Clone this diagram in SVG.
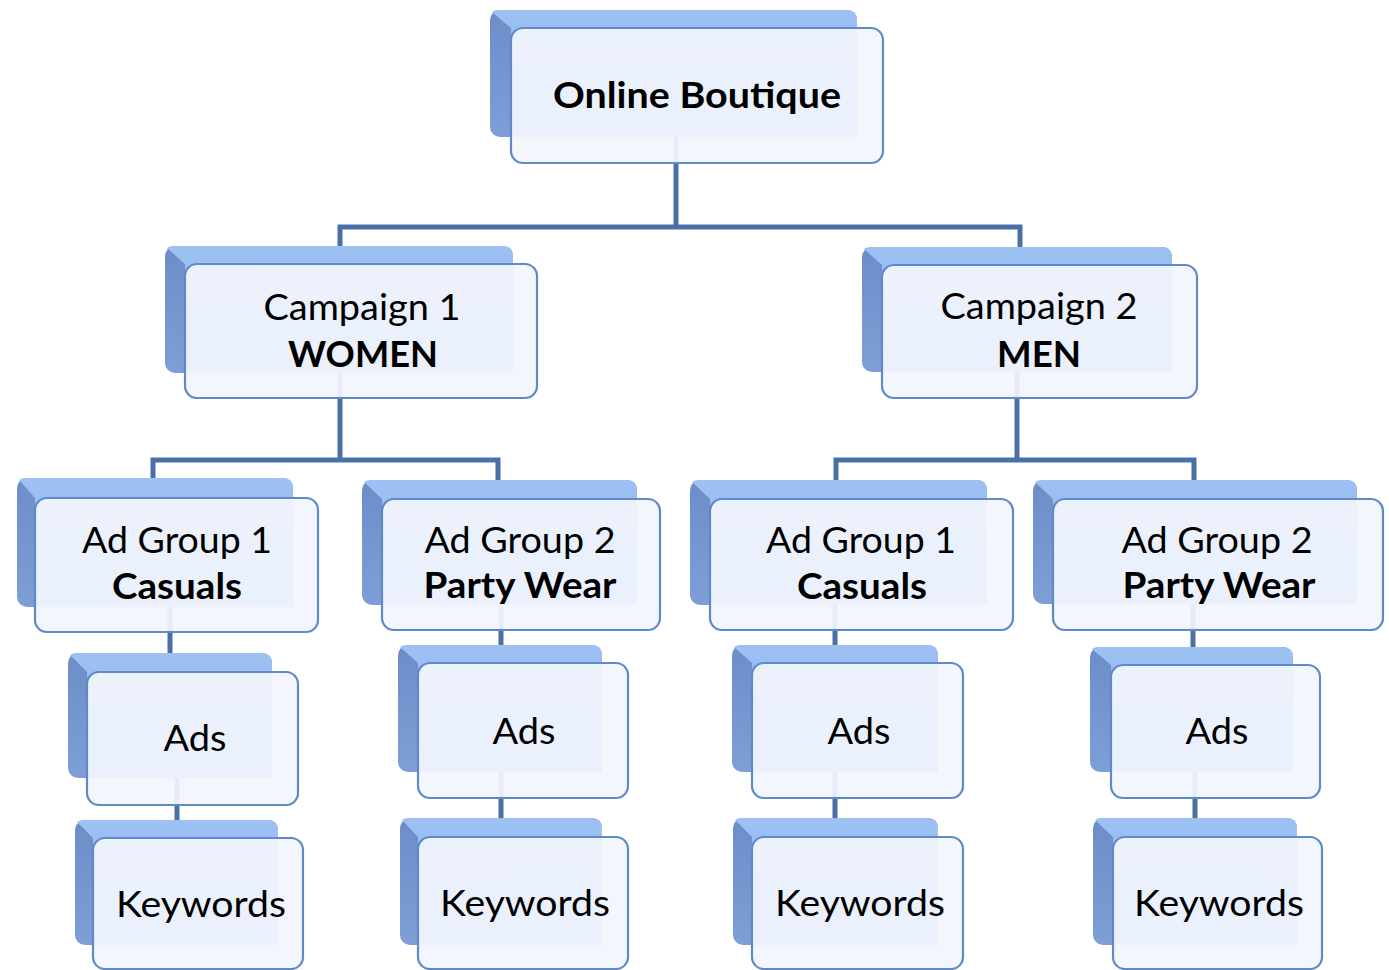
<svg xmlns="http://www.w3.org/2000/svg" width="1389" height="970" viewBox="0 0 1389 970">
<defs>
<linearGradient id="lightFace" x1="0" y1="0" x2="0" y2="1">
<stop offset="0" stop-color="#9dc1f3"/>
<stop offset="1" stop-color="#89afe7"/>
</linearGradient>
<linearGradient id="darkFace" x1="0" y1="0" x2="0" y2="1">
<stop offset="0" stop-color="#6c8dc8"/>
<stop offset="1" stop-color="#7d9ed6"/>
</linearGradient>
</defs>
<style>
.conn{fill:none;stroke:#4a70a8;stroke-width:5;stroke-linejoin:miter}
.dark{fill:url(#darkFace)}
.light{fill:url(#lightFace)}
.front{fill:#f2f5fd;fill-opacity:0.93;stroke:#5f8ac7;stroke-width:2.2}
.t{font-family:Lato,"Open Sans","Liberation Sans",sans-serif;font-size:36px;fill:#000;text-anchor:middle}
.b{font-weight:bold}
</style>
<rect width="1389" height="970" fill="#ffffff"/>
<g id="connectors">
<path class="conn" d="M676,137 V227 M340,247 V227 H1020 V247"/>
<path class="conn" d="M340,373 V460 M153,478 V460 H498 V480"/>
<path class="conn" d="M1017,372 V460 M836,480 V460 H1194 V480"/>
<path class="conn" d="M170,607 V653 M177,778 V820"/>
<path class="conn" d="M501,605 V645 M501,772 V818"/>
<path class="conn" d="M835,605 V645 M835,772 V818"/>
<path class="conn" d="M1193,604 V647 M1195,772 V818"/>
</g>
<g id="root">
<rect class="dark" x="490" y="10" width="367" height="127" rx="10"/>
<path class="light" d="M492,12 Q494,10 500,10 H847 Q857,10 857,20 V137 H511 V28 Z"/>
<rect class="front" x="511" y="28" width="372" height="135" rx="12"/>
<text class="t b" x="697" y="108" textLength="288" lengthAdjust="spacingAndGlyphs">Online Boutique</text>
</g>
<g id="campaign1">
<rect class="dark" x="165" y="246" width="348" height="127" rx="10"/>
<path class="light" d="M167,248 Q169,246 175,246 H503 Q513,246 513,256 V373 H185 V264 Z"/>
<rect class="front" x="185" y="264" width="352" height="134" rx="12"/>
<text class="t" x="362" y="320" textLength="197" lengthAdjust="spacingAndGlyphs">Campaign 1</text>
<text class="t b" x="363" y="367" textLength="150" lengthAdjust="spacingAndGlyphs">WOMEN</text>
</g>
<g id="campaign2">
<rect class="dark" x="862" y="247" width="310" height="125" rx="10"/>
<path class="light" d="M864,249 Q866,247 872,247 H1162 Q1172,247 1172,257 V372 H882 V265 Z"/>
<rect class="front" x="882" y="265" width="315" height="133" rx="12"/>
<text class="t" x="1039" y="319" textLength="197" lengthAdjust="spacingAndGlyphs">Campaign 2</text>
<text class="t b" x="1039" y="367" textLength="84" lengthAdjust="spacingAndGlyphs">MEN</text>
</g>
<g id="adgroup-w1">
<rect class="dark" x="17" y="478" width="276" height="129" rx="10"/>
<path class="light" d="M19,480 Q21,478 27,478 H283 Q293,478 293,488 V607 H35 V498 Z"/>
<rect class="front" x="35" y="498" width="283" height="134" rx="12"/>
<text class="t" x="177" y="553" textLength="190" lengthAdjust="spacingAndGlyphs">Ad Group 1</text>
<text class="t b" x="177" y="599" textLength="130" lengthAdjust="spacingAndGlyphs">Casuals</text>
</g>
<g id="adgroup-w2">
<rect class="dark" x="362" y="480" width="275" height="125" rx="10"/>
<path class="light" d="M364,482 Q366,480 372,480 H627 Q637,480 637,490 V605 H382 V499 Z"/>
<rect class="front" x="382" y="499" width="278" height="131" rx="12"/>
<text class="t" x="520" y="553" textLength="191" lengthAdjust="spacingAndGlyphs">Ad Group 2</text>
<text class="t b" x="520" y="598" textLength="193" lengthAdjust="spacingAndGlyphs">Party Wear</text>
</g>
<g id="adgroup-m1">
<rect class="dark" x="690" y="480" width="297" height="125" rx="10"/>
<path class="light" d="M692,482 Q694,480 700,480 H977 Q987,480 987,490 V605 H710 V499 Z"/>
<rect class="front" x="710" y="499" width="303" height="131" rx="12"/>
<text class="t" x="861" y="553" textLength="190" lengthAdjust="spacingAndGlyphs">Ad Group 1</text>
<text class="t b" x="862" y="599" textLength="130" lengthAdjust="spacingAndGlyphs">Casuals</text>
</g>
<g id="adgroup-m2">
<rect class="dark" x="1033" y="480" width="324" height="124" rx="10"/>
<path class="light" d="M1035,482 Q1037,480 1043,480 H1347 Q1357,480 1357,490 V604 H1053 V499 Z"/>
<rect class="front" x="1053" y="499" width="330" height="131" rx="12"/>
<text class="t" x="1217" y="553" textLength="191" lengthAdjust="spacingAndGlyphs">Ad Group 2</text>
<text class="t b" x="1219" y="598" textLength="193" lengthAdjust="spacingAndGlyphs">Party Wear</text>
</g>
<g id="ads-w1">
<rect class="dark" x="68" y="653" width="204" height="125" rx="10"/>
<path class="light" d="M70,655 Q72,653 78,653 H262 Q272,653 272,663 V778 H87 V672 Z"/>
<rect class="front" x="87" y="672" width="211" height="133" rx="12"/>
<text class="t" x="195" y="751" textLength="63" lengthAdjust="spacingAndGlyphs">Ads</text>
</g>
<g id="keywords-w1">
<rect class="dark" x="75" y="820" width="203" height="125" rx="10"/>
<path class="light" d="M77,822 Q79,820 85,820 H268 Q278,820 278,830 V945 H93 V838 Z"/>
<rect class="front" x="93" y="838" width="210" height="131" rx="12"/>
<text class="t" x="201" y="917" textLength="170" lengthAdjust="spacingAndGlyphs">Keywords</text>
</g>
<g id="ads-w2">
<rect class="dark" x="398" y="645" width="204" height="127" rx="10"/>
<path class="light" d="M400,647 Q402,645 408,645 H592 Q602,645 602,655 V772 H418 V663 Z"/>
<rect class="front" x="418" y="663" width="210" height="135" rx="12"/>
<text class="t" x="524" y="744" textLength="63" lengthAdjust="spacingAndGlyphs">Ads</text>
</g>
<g id="keywords-w2">
<rect class="dark" x="400" y="818" width="202" height="127" rx="10"/>
<path class="light" d="M402,820 Q404,818 410,818 H592 Q602,818 602,828 V945 H418 V837 Z"/>
<rect class="front" x="418" y="837" width="210" height="132" rx="12"/>
<text class="t" x="525" y="916" textLength="170" lengthAdjust="spacingAndGlyphs">Keywords</text>
</g>
<g id="ads-m1">
<rect class="dark" x="732" y="645" width="206" height="127" rx="10"/>
<path class="light" d="M734,647 Q736,645 742,645 H928 Q938,645 938,655 V772 H752 V663 Z"/>
<rect class="front" x="752" y="663" width="211" height="135" rx="12"/>
<text class="t" x="859" y="744" textLength="63" lengthAdjust="spacingAndGlyphs">Ads</text>
</g>
<g id="keywords-m1">
<rect class="dark" x="733" y="818" width="205" height="127" rx="10"/>
<path class="light" d="M735,820 Q737,818 743,818 H928 Q938,818 938,828 V945 H752 V837 Z"/>
<rect class="front" x="752" y="837" width="211" height="132" rx="12"/>
<text class="t" x="860" y="916" textLength="170" lengthAdjust="spacingAndGlyphs">Keywords</text>
</g>
<g id="ads-m2">
<rect class="dark" x="1090" y="647" width="203" height="125" rx="10"/>
<path class="light" d="M1092,649 Q1094,647 1100,647 H1283 Q1293,647 1293,657 V772 H1111 V665 Z"/>
<rect class="front" x="1111" y="665" width="209" height="133" rx="12"/>
<text class="t" x="1217" y="744" textLength="63" lengthAdjust="spacingAndGlyphs">Ads</text>
</g>
<g id="keywords-m2">
<rect class="dark" x="1093" y="818" width="204" height="127" rx="10"/>
<path class="light" d="M1095,820 Q1097,818 1103,818 H1287 Q1297,818 1297,828 V945 H1113 V837 Z"/>
<rect class="front" x="1113" y="837" width="209" height="132" rx="12"/>
<text class="t" x="1219" y="916" textLength="170" lengthAdjust="spacingAndGlyphs">Keywords</text>
</g>
</svg>
